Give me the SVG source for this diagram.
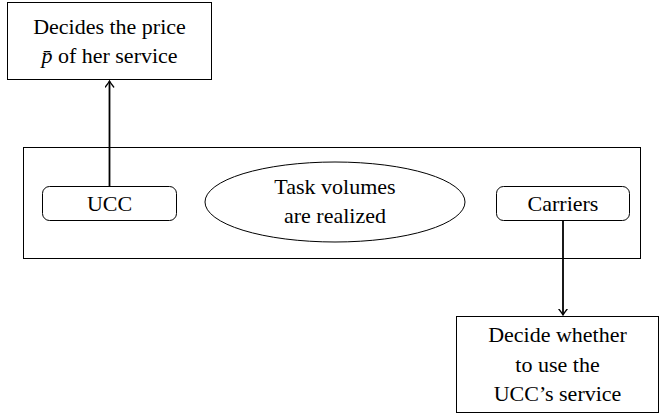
<svg xmlns="http://www.w3.org/2000/svg" width="660" height="416" viewBox="0 0 660 416">
<style>
.box{fill:#fff;stroke:#000;stroke-width:1}
.t{font-family:'Liberation Serif','Times New Roman','DejaVu Serif',serif;font-size:22px;fill:#000;text-anchor:middle}
.edge{fill:none;stroke:#000;stroke-width:1.8}
</style>
<defs>
<marker id="arr" viewBox="-6 -5 8 10" markerWidth="8" markerHeight="10" refX="0" refY="0" orient="auto" markerUnits="userSpaceOnUse">
<path d="M-5.5,-4.2 Q-1.5,-1 0.5,0 Q-1.5,1 -5.5,4.2" fill="none" stroke="#000" stroke-width="1.3" stroke-linecap="round"/>
</marker>
</defs>
<rect width="660" height="416" fill="#fff"/>
<g id="stage">
<rect class="box" x="23.5" y="147.5" width="617" height="111"/>
</g>
<g id="decides-price">
<rect class="box" x="7.5" y="2.5" width="204" height="77"/>
<text class="t" x="109.5" y="34">Decides the price</text>
<text class="t" x="109.5" y="63"><tspan font-style="italic">p̄</tspan> of her service</text>
</g>
<g id="ucc">
<rect class="box" x="42.5" y="186.5" width="134" height="34" rx="7"/>
<text class="t" x="109.5" y="211">UCC</text>
</g>
<g id="tasks">
<ellipse class="box" cx="335" cy="202" rx="130" ry="40"/>
<text class="t" x="335" y="194">Task volumes</text>
<text class="t" x="335" y="223">are realized</text>
</g>
<g id="carriers">
<rect class="box" x="496.5" y="186.5" width="133" height="34" rx="7"/>
<text class="t" x="563" y="211">Carriers</text>
</g>
<g id="decide-use">
<rect class="box" x="456.5" y="316.5" width="202" height="96"/>
<text class="t" x="557.5" y="342">Decide whether</text>
<text class="t" x="557.5" y="372">to use the</text>
<text class="t" x="557.5" y="401">UCC’s service</text>
</g>
<g id="connectors">
<path class="edge" d="M109.5,186 V81.5" marker-end="url(#arr)"/>
<path class="edge" d="M563,221 V314.5" marker-end="url(#arr)"/>
</g>
</svg>
